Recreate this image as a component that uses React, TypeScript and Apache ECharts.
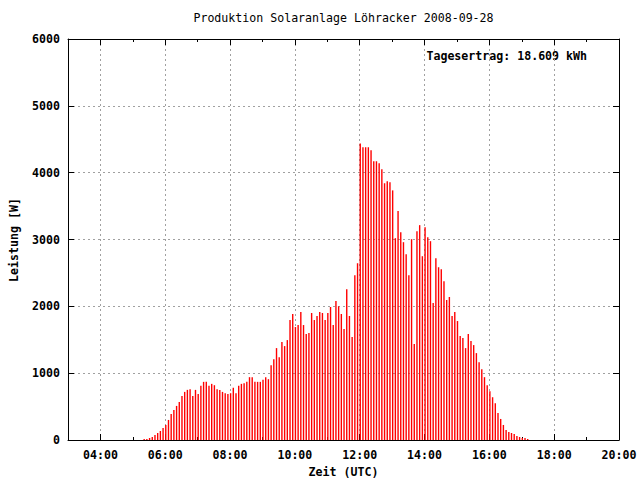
import React, { useEffect, useRef } from 'react';
import * as echarts from 'echarts';

const chartTitle = 'Produktion Solaranlage Löhracker 2008-09-28';
const yieldText = 'Tagesertrag: 18.609 kWh';
const xAxisName = 'Zeit (UTC)';
const yAxisName = 'Leistung [W]';

// sampling: one reading every 5 minutes, first at 05:21 UTC
const firstSampleMinute = 321;
const sampleStepMinutes = 5;

const powerW = [
  15, 15, 30, 45, 75, 105, 135, 180, 225, 300,
  390, 450, 510, 570, 660, 720, 750, 760, 660, 750,
  690, 810, 870, 870, 810, 840, 820, 760, 750, 720,
  700, 690, 700, 780, 700, 810, 840, 850, 870, 940,
  940, 870, 870, 870, 900, 940, 910, 1120, 1210, 1375,
  1240, 1465, 1405, 1495, 1795, 1885, 1690, 1720, 1915, 1720,
  1585, 1600, 1900, 1795, 1855, 1915, 1900, 1795, 1900, 1990,
  1720, 2080, 2000, 1885, 1660, 2255, 1855, 1540, 2465, 2645,
  4435, 4380, 4380, 4380, 4335, 4170, 4170, 4140, 4050, 3840,
  3870, 3855, 3735, 3020, 3425, 3110, 2960, 2780, 2465, 3005,
  1435, 3125, 3215, 2750, 3185, 3035, 2975, 2050, 2720, 2585,
  2555, 2375, 2095, 2140, 1855, 1915, 1780, 1555, 1525, 1375,
  1585, 1480, 1420, 1300, 1165, 1060, 940, 820, 730, 640,
  550, 405, 315, 225, 150, 120, 105, 90, 60, 45,
  30, 30, 15,
];

const xMinHour = 3;
const xMaxHour = 20;
const xMajorTickHours = [4, 6, 8, 10, 12, 14, 16, 18, 20];
const yMax = 6000;
const yStep = 1000;

const FONT = 'DejaVu Sans Mono';

export default function App() {
  const ref = useRef<HTMLDivElement>(null);

  useEffect(() => {
    if (!ref.current) return;
    const chart = echarts.init(ref.current, undefined, { renderer: 'svg' });

    const data = powerW.map((v, i) => [
      (firstSampleMinute + i * sampleStepMinutes) / 60,
      v,
    ]);

    const fmt = (v: number) => String(Math.round(v)).padStart(2, '0') + ':00';
    const gridLine = { show: true, lineStyle: { color: '#a0a0a0', width: 1, type: [2, 3] as any } };
    const blackLine = { show: true, onZero: false, lineStyle: { color: '#000', width: 1 } };

    const xBase = { type: 'value' as const, min: xMinHour, max: xMaxHour };

    chart.setOption({
      animation: false,
      backgroundColor: '#fff',
      textStyle: { fontFamily: FONT },
      grid: { left: 68, right: 21, top: 39, bottom: 40, containLabel: false },
      graphic: [
        {
          type: 'text', x: 343.5, y: 18,
          style: { text: chartTitle, fill: '#000', font: `11.6px "${FONT}"`, textAlign: 'center', textVerticalAlign: 'middle' },
        },
        {
          type: 'text', x: 587, y: 56,
          style: { text: yieldText, fill: '#000', font: `bold 11.6px "${FONT}"`, textAlign: 'right', textVerticalAlign: 'middle' },
        },
        {
          type: 'text', x: 343.5, y: 472,
          style: { text: xAxisName, fill: '#000', font: `bold 11.6px "${FONT}"`, textAlign: 'center', textVerticalAlign: 'middle' },
        },
        {
          type: 'text', x: 14, y: 240, rotation: Math.PI / 2,
          style: { text: yAxisName, fill: '#000', font: `bold 11.6px "${FONT}"`, textAlign: 'center', textVerticalAlign: 'middle' },
        },
      ],
      xAxis: [
        {
          ...xBase, position: 'bottom',
          axisLine: blackLine,
          axisTick: { show: true, inside: true, length: 6, customValues: xMajorTickHours, lineStyle: { color: '#000' } },
          axisLabel: { show: true, customValues: xMajorTickHours, formatter: fmt, color: '#000', fontFamily: FONT, fontSize: 11.6, fontWeight: 'bold', margin: 9 },
          splitLine: gridLine,
        },
        {
          ...xBase, position: 'bottom', interval: 1,
          axisLine: { show: false, onZero: false },
          axisTick: { show: true, inside: true, length: 3, lineStyle: { color: '#000' } },
          axisLabel: { show: false },
          splitLine: { show: false },
        },
        {
          ...xBase, position: 'top',
          axisLine: blackLine,
          axisTick: { show: true, inside: true, length: 6, customValues: xMajorTickHours, lineStyle: { color: '#000' } },
          axisLabel: { show: false, customValues: xMajorTickHours },
          splitLine: { show: false },
        },
        {
          ...xBase, position: 'top', interval: 1,
          axisLine: { show: false, onZero: false },
          axisTick: { show: true, inside: true, length: 3, lineStyle: { color: '#000' } },
          axisLabel: { show: false },
          splitLine: { show: false },
        },
      ],
      yAxis: [
        {
          type: 'value', min: 0, max: yMax, interval: yStep, position: 'left',
          axisLine: blackLine,
          axisTick: { show: true, inside: true, length: 6, lineStyle: { color: '#000' } },
          axisLabel: { color: '#000', fontFamily: FONT, fontSize: 11.6, fontWeight: 'bold', margin: 8, formatter: (v: number) => String(v) },
          splitLine: gridLine,
        },
        {
          type: 'value', min: 0, max: yMax, interval: yStep, position: 'right',
          axisLine: blackLine,
          axisTick: { show: true, inside: true, length: 6, lineStyle: { color: '#000' } },
          axisLabel: { show: false },
          splitLine: { show: false },
        },
      ],
      series: [
        {
          type: 'bar',
          xAxisIndex: 0,
          yAxisIndex: 0,
          data,
          barWidth: 1.4,
          itemStyle: { color: '#ff0000' },
          z: 3,
        },
      ],
    });

    return () => chart.dispose();
  }, []);

  return (
    <div
      ref={ref}
      style={{ position: 'fixed', left: 0, top: 0, width: 640, height: 480, background: '#fff' }}
    />
  );
}
